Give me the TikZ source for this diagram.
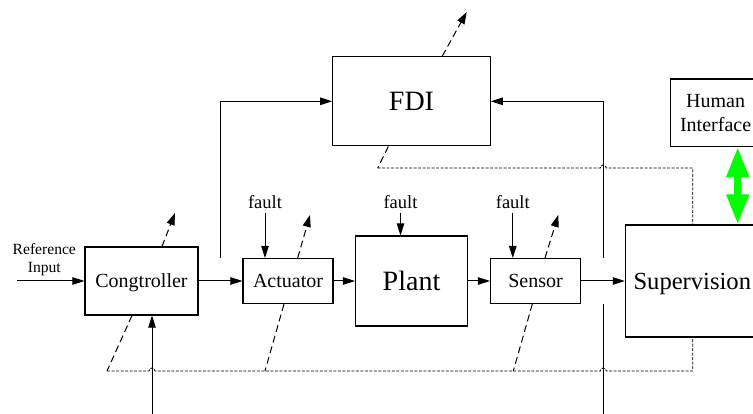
\documentclass[tikz,border=0pt]{standalone}
\usepackage{fontspec}
\setmainfont{Liberation Serif}
\usetikzlibrary{arrows.meta,calc}
\definecolor{hgreen}{RGB}{0,255,0}
\begin{document}
\begin{tikzpicture}[x=1pt,y=-1pt,
  box/.style={draw,line width=1.1pt,inner sep=0pt,text depth=0pt},
  smallbox/.style={box,text height=13.3pt,font=\fontsize{20}{24}\selectfont},
  bigbox/.style={box,text height=18.6pt,font=\fontsize{28}{32}\selectfont},
  arr/.style={line width=1pt,-{Triangle[length=12pt,width=7.5pt]}},
  ln/.style={line width=1pt},
  dasharr/.style={line width=1pt,dash pattern=on 7pt off 4pt,-{Triangle[length=12pt,width=8pt]}},
  dashln/.style={line width=1pt,dash pattern=on 7pt off 4pt},
  fine/.style={line width=0.9pt,dash pattern=on 3pt off 1.5pt},
  faultlbl/.style={inner sep=0pt,anchor=base,font=\fontsize{18.5}{22}\selectfont}
]
\fill[white] (0,0) rectangle (753,414);
\useasboundingbox (0,0) rectangle (753,414);

% boxes
\node[smallbox,minimum width=113pt,minimum height=68pt] (ctrl) at (141.5,281) {Congtroller};
\node[smallbox,minimum width=90pt,minimum height=45pt] (act) at (288,281) {Actuator};
\node[bigbox,minimum width=112pt,minimum height=90pt] (plant) at (411.5,281) {Plant};
\node[smallbox,minimum width=90pt,minimum height=45pt] (sens) at (535.5,281) {Sensor};
\node[box,text height=16.3pt,font=\fontsize{24.6}{28}\selectfont,minimum width=134pt,minimum height=112pt] (sup) at (692.3,281) {Supervision};
\node[bigbox,minimum width=157.6pt,minimum height=89.3pt] (fdi) at (411.5,101.3) {FDI};
\node[draw,line width=1.1pt,inner sep=0pt,align=center,font=\fontsize{20}{24}\selectfont,
      minimum width=90.7pt,minimum height=67.3pt] (hum) at (715.6,112.7) {Human\\Interface};

% labels
\node[align=center,inner sep=0pt,font=\fontsize{15.6}{18.7}\selectfont] (reflbl) at (44.3,259.7) {Reference\\Input};
\node[faultlbl] (fa) at (265,208.3) {fault};
\node[faultlbl] (fp) at (400.5,208.3) {fault};
\node[faultlbl] (fs) at (512.8,208.3) {fault};

% coordinates
\coordinate (refin) at (17,281);
\coordinate (bin1) at (152,414);
\coordinate (bin2) at (603.3,414);
\coordinate (g2lo) at (603.3,304);
\coordinate (g2hi) at (603.3,258);
\coordinate (g1) at (220,258);
\coordinate (dc) at (175,213);
\coordinate (da) at (310,215);
\coordinate (ds) at (558.3,215);
\coordinate (df) at (466.7,12);
\coordinate (lc) at (107,371);
\coordinate (la) at (265,371);
\coordinate (ls) at (513.3,371);
\coordinate (lf) at (377.7,168);
\coordinate (sd) at (692.7,371);
\coordinate (st) at (692.7,168);
\coordinate (gx) at (737.7,0);

% signal flow
\draw[arr] (refin) -- (ctrl.west);
\draw[arr] (ctrl.east) -- (act.west);
\draw[arr] (act.east) -- (plant.west);
\draw[arr] (plant.east) -- (sens.west);
\draw[arr] (sens.east) -- (sup.west);
\draw[arr] (g1) |- (fdi.west);
\draw[ln] (bin2) -- (g2lo);
\draw[arr] (g2hi) |- (fdi.east);
\draw[arr] (bin1) -- (bin1 |- ctrl.south);

% faults
\draw[arr] ([yshift=-4.7pt]fa.base) -- (fa.base |- act.north);
\draw[arr] ([yshift=-4.7pt]fp.base) -- (fp.base |- plant.north);
\draw[arr] ([yshift=-4.7pt]fs.base) -- (fs.base |- sens.north);

% dashed outputs
\draw[dasharr] ([xshift=20.5pt]ctrl.north) -- (dc);
\draw[dasharr] ([xshift=9.7pt]act.north) -- (da);
\draw[dasharr] ([xshift=9.5pt]sens.north) -- (ds);
\draw[dasharr] ([xshift=30.8pt]fdi.north) -- (df);

\draw[dashln] ([xshift=-9.5pt]ctrl.south) -- (lc);
\draw[dashln] ([xshift=-4pt]act.south) -- (la);
\draw[dashln] ([xshift=-3.2pt]sens.south) -- (ls);
\draw[dashln] ([xshift=-23.2pt]fdi.south) -- (lf);

% fine dashed buses
\draw[fine] (lc) -- (149,371) arc[start angle=180,end angle=0,radius=3pt]
  -- (600.3,371) arc[start angle=180,end angle=0,radius=3pt]
  -- (sd) -- (sd |- sup.south);
\draw[fine] (lf) -- (600.3,168) arc[start angle=180,end angle=0,radius=3pt]
  -- (st) -- (st |- sup.north);

% human interface link
\draw[hgreen,line width=7pt,{Triangle[length=30pt,width=21pt]}-{Triangle[length=30pt,width=21pt]}]
  (gx |- hum.south) -- (gx |- sup.north);
\end{tikzpicture}
\end{document}
